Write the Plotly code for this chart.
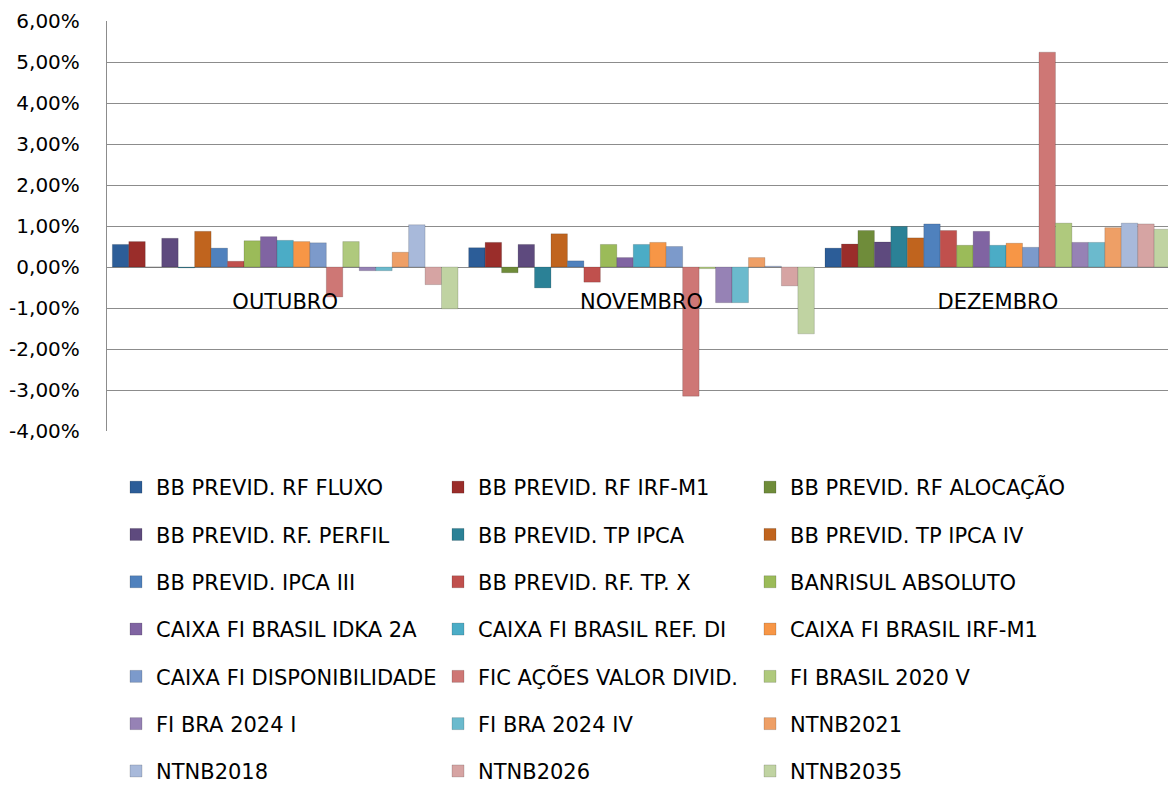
import plotly.graph_objects as go

categories = ["OUTUBRO", "NOVEMBRO", "DEZEMBRO"]

series_names = [
    "BB PREVID. RF FLUXO", "BB PREVID. RF IRF-M1", "BB PREVID. RF ALOCAÇÃO",
    "BB PREVID. RF. PERFIL", "BB PREVID. TP IPCA", "BB PREVID. TP IPCA IV",
    "BB PREVID. IPCA III", "BB PREVID. RF. TP. X", "BANRISUL ABSOLUTO",
    "CAIXA FI BRASIL IDKA 2A", "CAIXA FI BRASIL REF. DI", "CAIXA FI BRASIL IRF-M1",
    "CAIXA FI DISPONIBILIDADE", "FIC AÇÕES VALOR DIVID.", "FI BRASIL 2020 V",
    "FI BRA 2024 I", "FI BRA 2024 IV", "NTNB2021",
    "NTNB2018", "NTNB2026", "NTNB2035",
]

# monthly returns (%) per series, in series order
outubro = [0.55, 0.62, 0.00, 0.70, -0.02, 0.87, 0.46, 0.14, 0.64, 0.74, 0.65, 0.62,
           0.59, -0.73, 0.62, -0.09, -0.09, 0.36, 1.03, -0.43, -1.02]
novembro = [0.47, 0.60, -0.14, 0.55, -0.51, 0.81, 0.15, -0.37, 0.55, 0.23, 0.55, 0.60,
            0.50, -3.15, -0.04, -0.87, -0.87, 0.23, 0.02, -0.46, -1.63]
dezembro = [0.46, 0.56, 0.89, 0.61, 0.99, 0.71, 1.05, 0.89, 0.53, 0.87, 0.53, 0.58,
            0.48, 5.24, 1.07, 0.60, 0.60, 0.96, 1.07, 1.05, 0.92]

tick_vals = [-4, -3, -2, -1, 0, 1, 2, 3, 4, 5, 6]
tick_text = ["-4,00%", "-3,00%", "-2,00%", "-1,00%", "0,00%", "1,00%",
             "2,00%", "3,00%", "4,00%", "5,00%", "6,00%"]

colors = ["#2C5D98", "#9A2D2A", "#6F8C3A", "#5E4A7E", "#2B8196", "#C0641E",
          "#4F81BD", "#C0504D", "#9BBB59", "#8064A2", "#4BACC6", "#F79646",
          "#7C9ACB", "#CE7775", "#AFC97D", "#9682B5", "#6BBACD", "#EE9F66",
          "#A8B9DA", "#D6A4A3", "#C0D3A2"]

FONT = "DejaVu Sans"
# the page body adds an 8px offset, so the figure is sized to fill the rest
W, H = 1168, 782

fig = go.Figure()
legend_ids = ["legend", "legend2", "legend3"]
for i, name in enumerate(series_names):
    fig.add_trace(go.Bar(
        name=name,
        x=categories,
        y=[outubro[i], novembro[i], dezembro[i]],
        marker=dict(color=colors[i], line=dict(color="rgba(0,0,0,0.25)", width=0.6)),
        legend=legend_ids[i % 3],
        legendgroup=name,
    ))

legend_common = dict(
    orientation="v", traceorder="grouped", tracegroupgap=17,
    font=dict(family=FONT, size=21, color="#000000"),
    bgcolor="rgba(0,0,0,0)", xref="container", yref="container",
    xanchor="left", yanchor="top", itemclick=False,
)
col_x = [108, 430, 742]
top_y = 1 - 459 / H

fig.update_layout(
    width=W, height=H,
    paper_bgcolor="white", plot_bgcolor="white",
    margin=dict(l=99, r=0, t=13, b=359, autoexpand=False),
    barmode="group", bargap=0.03, bargroupgap=0.0,
    separators=",.",
    font=dict(family=FONT, size=20, color="#000000"),
    legend=dict(x=col_x[0] / W, y=top_y, **legend_common),
    legend2=dict(x=col_x[1] / W, y=top_y, **legend_common),
    legend3=dict(x=col_x[2] / W, y=top_y, **legend_common),
    xaxis=dict(
        anchor="free", position=0.4, showgrid=False, showline=False,
        ticks="", ticklabelstandoff=20, automargin=False,
        tickfont=dict(family=FONT, size=21, color="#000000"),
    ),
    yaxis=dict(
        range=[-4, 6], tickvals=tick_vals, ticktext=tick_text,
        showgrid=True, gridcolor="#8C8C8C", gridwidth=1.3,
        zeroline=True, zerolinecolor="#8C8C8C", zerolinewidth=1.3,
        showline=True, linecolor="#8C8C8C", linewidth=1.3,
        ticks="", ticklabelstandoff=22, automargin=False,
        tickfont=dict(family=FONT, size=20, color="#000000"),
    ),
)

fig.write_html("out.html")
